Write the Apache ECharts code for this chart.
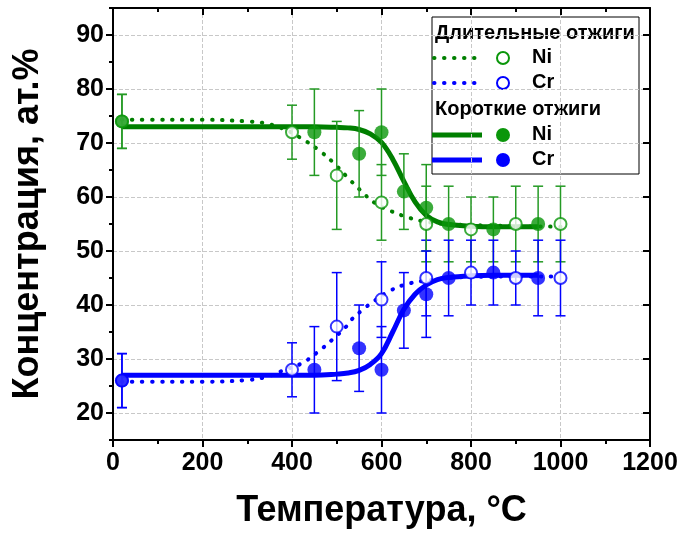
<!DOCTYPE html>
<html>
<head>
<meta charset="utf-8">
<script src="https://cdn.jsdelivr.net/npm/echarts@6/dist/echarts.min.js"></script>
<style>
  html, body { margin: 0; padding: 0; background: #fff; }
  #chart { width: 684px; height: 534px; }
</style>
</head>
<body>
<div id="chart"></div>
<script>
// Long anneals (open circles, dotted trend)
const longTemps  = [20, 400, 500, 600, 700, 800, 900, 1000];
const longNi     = [74, 72, 64, 59, 55, 54, 55, 55];
const longNiErr  = [5, 5, 10, 7, 7, 6, 7, 7];
const longCr     = [26, 28, 36, 41, 45, 46, 45, 45];
const longCrErr  = [5, 5, 10, 7, 7, 6, 5, 7];

// Short anneals (filled circles, solid trend)
const shortTemps = [20, 450, 550, 600, 650, 700, 750, 850, 950];
const shortNi    = [74, 72, 68, 72, 61, 58, 55, 54, 55];
const shortNiErr = [5, 8, 8, 8, 7, 8, 7, 6, 7];
const shortCr    = [26, 28, 32, 28, 39, 42, 45, 46, 45];
const shortCrErr = [5, 8, 8, 8, 7, 8, 7, 6, 7];

// Trend curves
const longNiCurveT  = [20, 100, 200, 300, 343, 387, 424, 458, 492, 521, 551, 585, 621, 660, 700, 750, 800, 900, 1000];
const longNiCurve   = [74.3, 74.3, 74.3, 74.0, 73.6, 72.4, 70.7, 68.8, 66.4, 63.9, 61.4, 58.9, 57.4, 56.2, 55.4, 55.0, 54.8, 54.6, 54.5];
const longCrCurveT  = [20, 100, 200, 300, 343, 384, 422, 456, 489, 521, 533, 565, 581, 618, 658, 708, 750, 800, 900, 1000];
const longCrCurve   = [25.8, 25.8, 25.8, 26.1, 26.7, 28.0, 29.2, 31.2, 33.5, 36.0, 37.3, 39.6, 40.6, 42.6, 43.9, 44.6, 45.0, 45.2, 45.3, 45.3];
const shortNiCurveT = [20, 100, 200, 300, 400, 450, 500, 525, 550, 575, 600, 625, 650, 675, 700, 725, 750, 800, 850, 900, 950];
const shortNiCurve  = [73.0, 73.0, 73.0, 73.0, 73.0, 73.0, 72.9, 72.8, 72.5, 71.7, 70.1, 67.0, 62.9, 59.1, 56.6, 55.4, 54.9, 54.6, 54.5, 54.5, 54.5];
const shortCrCurveT = [20, 100, 200, 300, 400, 450, 500, 525, 550, 575, 600, 625, 650, 675, 700, 725, 750, 800, 850, 900, 950];
const shortCrCurve  = [27.0, 27.0, 27.0, 27.0, 27.0, 27.0, 27.2, 27.4, 27.9, 29.0, 31.0, 35.0, 39.2, 42.0, 43.7, 44.7, 45.1, 45.4, 45.5, 45.5, 45.5];

// Axis ticks
const xTicks = [0, 200, 400, 600, 800, 1000, 1200];
const yTicks = [20, 30, 40, 50, 60, 70, 80, 90];

const GREEN_LINE = '#007f00';
const GREEN_MARK = '#0a960a';
const GREEN_ERR  = '#249a24';
const BLUE = '#0000ff';
const FONT = 'Liberation Sans, Arial, sans-serif';

const pairs = (xs, ys) => xs.map((x, i) => [x, ys[i]]);
const bars = (xs, ys, es) => xs.map((x, i) => [x, ys[i] - es[i], ys[i] + es[i]]);

function errorBar(color) {
  return function (params, api) {
    const x = api.value(0);
    const lo = api.coord([x, api.value(1)]);
    const hi = api.coord([x, api.value(2)]);
    const w = 5;
    const st = { stroke: color, lineWidth: 1.5 };
    return {
      type: 'group',
      children: [
        { type: 'line', shape: { x1: lo[0], y1: lo[1], x2: hi[0], y2: hi[1] }, style: st },
        { type: 'line', shape: { x1: lo[0] - w, y1: lo[1], x2: lo[0] + w, y2: lo[1] }, style: st },
        { type: 'line', shape: { x1: hi[0] - w, y1: hi[1], x2: hi[0] + w, y2: hi[1] }, style: st }
      ]
    };
  };
}

const dotted = (color) => ({ color: color, width: 4, type: [0.5, 9.5], cap: 'round' });

const chart = echarts.init(document.getElementById('chart'), null, { renderer: 'canvas' });

const gridDash = { color: '#c8c8c8', width: 1, type: [4, 2] };
const axisBlack = { color: '#000', width: 2 };
const plain = (v) => String(v);

// Legend box: headings, line samples, markers and labels
const legendFont = 'bold 20px ' + FONT;
const legendText = (text, x, y) => ({
  type: 'text', x: x, y: y,
  style: { text: text, font: legendFont, fill: '#000', align: 'left', verticalAlign: 'top' }
});

const option = {
  animation: false,
  backgroundColor: '#fff',
  grid: { left: 113, right: 34, top: 8, bottom: 94 },
  xAxis: [
    {
      type: 'value', position: 'bottom', min: 0, max: 1200, interval: 200,
      axisLine: { show: true, onZero: false, lineStyle: axisBlack },
      axisTick: { show: true, length: 7, lineStyle: axisBlack },
      minorTick: { show: true, splitNumber: 2, length: 4, lineStyle: axisBlack },
      axisLabel: { color: '#000', fontSize: 25, fontWeight: 'bold', fontFamily: FONT, margin: 11,
                   customValues: xTicks, formatter: plain },
      splitLine: { show: true, lineStyle: gridDash },
      name: 'Температура, °C', nameLocation: 'middle', nameGap: 53,
      nameTextStyle: { color: '#000', fontSize: 36, fontWeight: 'bold', fontFamily: FONT }
    },
    {
      type: 'value', position: 'top', min: 0, max: 1200, interval: 200,
      axisLine: { show: true, onZero: false, lineStyle: axisBlack },
      axisTick: { show: true, inside: true, length: 7, lineStyle: axisBlack },
      minorTick: { show: true, splitNumber: 2, length: 4, lineStyle: axisBlack },
      axisLabel: { show: false },
      splitLine: { show: false }
    }
  ],
  yAxis: [
    {
      type: 'value', position: 'left', min: 15, max: 95,
      axisLine: { show: true, onZero: false, lineStyle: axisBlack },
      axisTick: { show: true, length: 7, lineStyle: axisBlack, customValues: yTicks },
      axisLabel: { color: '#000', fontSize: 25, fontWeight: 'bold', fontFamily: FONT, margin: 9,
                   customValues: yTicks, formatter: plain },
      splitLine: { show: true, lineStyle: gridDash },
      name: 'Концентрация, ат.%', nameLocation: 'middle', nameGap: 67, nameRotate: 90,
      nameTextStyle: { color: '#000', fontSize: 36, fontWeight: 'bold', fontFamily: FONT }
    },
    {
      type: 'value', position: 'left', min: 15, max: 95, interval: 10,
      axisLine: { show: false },
      axisTick: { show: true, length: 4, lineStyle: axisBlack },
      axisLabel: { show: false },
      splitLine: { show: false }
    },
    {
      type: 'value', position: 'right', min: 15, max: 95,
      axisLine: { show: true, onZero: false, lineStyle: axisBlack },
      axisTick: { show: true, inside: true, length: 7, lineStyle: axisBlack, customValues: yTicks },
      axisLabel: { show: false, customValues: yTicks },
      splitLine: { show: false }
    },
    {
      type: 'value', position: 'right', min: 15, max: 95, interval: 10,
      axisLine: { show: false },
      axisTick: { show: true, inside: true, length: 4, lineStyle: axisBlack },
      axisLabel: { show: false },
      splitLine: { show: false }
    }
  ],
  series: [
    { name: 'Длительные Ni', type: 'line', smooth: 0.4, showSymbol: false, data: pairs(longNiCurveT, longNiCurve), lineStyle: dotted(GREEN_LINE), z: 2 },
    { name: 'Длительные Cr', type: 'line', smooth: 0.4, showSymbol: false, data: pairs(longCrCurveT, longCrCurve), lineStyle: dotted(BLUE), z: 2 },
    { name: 'Короткие Ni', type: 'line', smooth: 0.4, showSymbol: false, data: pairs(shortNiCurveT, shortNiCurve), lineStyle: { color: GREEN_LINE, width: 5 }, z: 3 },
    { name: 'Короткие Cr', type: 'line', smooth: 0.4, showSymbol: false, data: pairs(shortCrCurveT, shortCrCurve), lineStyle: { color: BLUE, width: 5 }, z: 3 },
    { type: 'custom', renderItem: errorBar(GREEN_ERR), data: bars(longTemps, longNi, longNiErr), z: 4 },
    { type: 'custom', renderItem: errorBar(BLUE), data: bars(longTemps, longCr, longCrErr), z: 4 },
    { type: 'custom', renderItem: errorBar(GREEN_ERR), data: bars(shortTemps, shortNi, shortNiErr), z: 4 },
    { type: 'custom', renderItem: errorBar(BLUE), data: bars(shortTemps, shortCr, shortCrErr), z: 4 },
    { type: 'scatter', data: pairs(longTemps, longNi), symbol: 'circle', symbolSize: 12,
      itemStyle: { color: '#fff', borderColor: GREEN_MARK, borderWidth: 2 }, z: 5 },
    { type: 'scatter', data: pairs(longTemps, longCr), symbol: 'circle', symbolSize: 12,
      itemStyle: { color: '#fff', borderColor: BLUE, borderWidth: 2 }, z: 5 },
    { type: 'scatter', data: pairs(shortTemps, shortNi), symbol: 'circle', symbolSize: 14,
      itemStyle: { color: GREEN_MARK }, z: 6 },
    { type: 'scatter', data: pairs(shortTemps, shortCr), symbol: 'circle', symbolSize: 14,
      itemStyle: { color: BLUE }, z: 6 }
  ],
  graphic: [
    {
      type: 'group', x: 432, y: 17, z: 100,
      children: [
        { type: 'rect', shape: { x: 0, y: 0, width: 207, height: 157 }, style: { fill: '#fff', stroke: '#000', lineWidth: 1 } },
        legendText('Длительные отжиги', 3, 6),
        { type: 'line', shape: { x1: 2, y1: 41, x2: 43, y2: 41 }, style: { stroke: GREEN_LINE, lineWidth: 4, lineDash: [0.5, 9.5], lineCap: 'round' } },
        { type: 'circle', shape: { cx: 71, cy: 41, r: 6 }, style: { fill: '#fff', stroke: GREEN_MARK, lineWidth: 2 } },
        legendText('Ni', 100, 30),
        { type: 'line', shape: { x1: 2, y1: 66, x2: 43, y2: 66 }, style: { stroke: BLUE, lineWidth: 4, lineDash: [0.5, 9.5], lineCap: 'round' } },
        { type: 'circle', shape: { cx: 71, cy: 66, r: 6 }, style: { fill: '#fff', stroke: BLUE, lineWidth: 2 } },
        legendText('Cr', 100, 55),
        legendText('Короткие отжиги', 3, 82),
        { type: 'line', shape: { x1: 0, y1: 118, x2: 50, y2: 118 }, style: { stroke: GREEN_LINE, lineWidth: 5 } },
        { type: 'circle', shape: { cx: 71, cy: 118, r: 7 }, style: { fill: GREEN_MARK } },
        legendText('Ni', 100, 107),
        { type: 'line', shape: { x1: 0, y1: 143, x2: 50, y2: 143 }, style: { stroke: BLUE, lineWidth: 5 } },
        { type: 'circle', shape: { cx: 71, cy: 143, r: 7 }, style: { fill: BLUE } },
        legendText('Cr', 100, 132)
      ]
    }
  ]
};

chart.setOption(option);
</script>
</body>
</html>
